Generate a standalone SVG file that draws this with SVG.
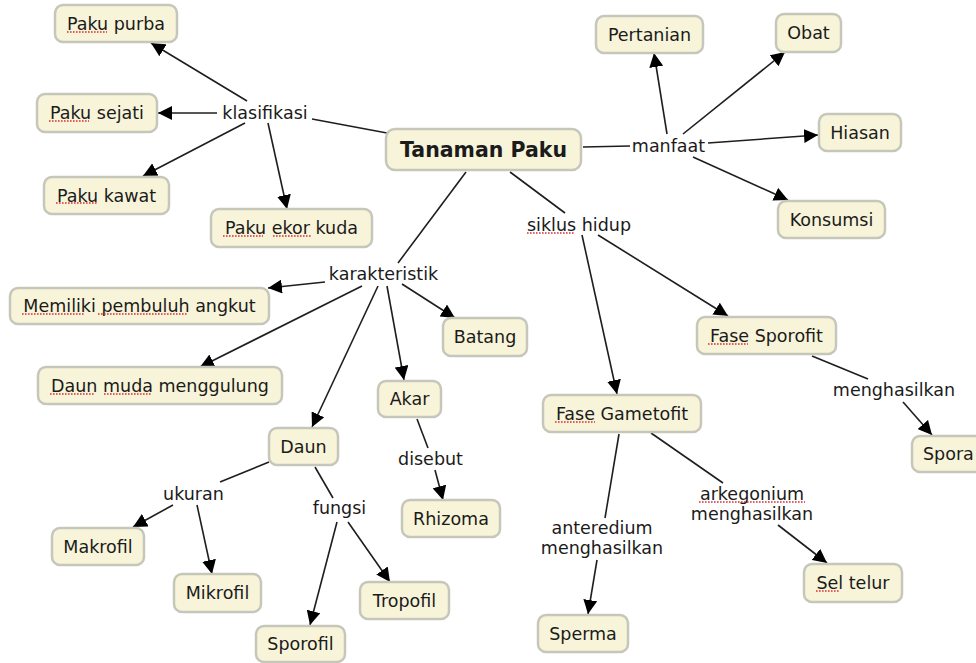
<svg xmlns="http://www.w3.org/2000/svg" width="976" height="663" viewBox="0 0 976 663">
<style>
.n rect{fill:#f7f4d9;stroke:#c6c6bb;stroke-width:2.5}
text{font-family:"DejaVu Sans","Verdana",sans-serif;font-size:17.5px;fill:#1b1b1b;text-anchor:middle}
.b{font-weight:bold;font-size:20.5px}
.c line{stroke:#1e1e1e;stroke-width:1.6}
.a{marker-end:url(#ah)}
.sp path{fill:none;stroke:#d93030;stroke-width:1.4;stroke-dasharray:1.6 1.4}
</style>
<defs>
<marker id="ah" markerUnits="userSpaceOnUse" markerWidth="15" markerHeight="14" refX="14" refY="7" orient="auto">
<path d="M0,0 L14,7 L0,14 z" fill="#000"/>
</marker>
</defs>
<g class="c">
<line x1="387" y1="133" x2="312" y2="119"/>
<line class="a" x1="247" y1="101" x2="151" y2="43"/>
<line class="a" x1="217" y1="113" x2="158" y2="113"/>
<line class="a" x1="245" y1="123" x2="143" y2="176"/>
<line class="a" x1="268" y1="123" x2="287" y2="209"/>
<line x1="583" y1="147" x2="630" y2="146"/>
<line class="a" x1="667" y1="134" x2="654" y2="53"/>
<line class="a" x1="683" y1="134" x2="785" y2="52"/>
<line class="a" x1="708" y1="143" x2="818" y2="135"/>
<line class="a" x1="693" y1="157" x2="788" y2="200"/>
<line x1="510" y1="172" x2="565" y2="213"/>
<line x1="466" y1="172" x2="398" y2="263"/>
<line class="a" x1="582" y1="235" x2="617" y2="394"/>
<line class="a" x1="598" y1="235" x2="728" y2="316"/>
<line class="a" x1="325" y1="282" x2="268" y2="288"/>
<line class="a" x1="362" y1="286" x2="200" y2="367"/>
<line class="a" x1="378" y1="286" x2="312" y2="427"/>
<line class="a" x1="387" y1="286" x2="404" y2="380"/>
<line class="a" x1="402" y1="284" x2="455" y2="318"/>
<line x1="417" y1="419" x2="428" y2="448"/>
<line class="a" x1="435" y1="470" x2="443" y2="500"/>
<line x1="269" y1="462" x2="220" y2="482"/>
<line class="a" x1="173" y1="505" x2="133" y2="527"/>
<line class="a" x1="197" y1="505" x2="212" y2="574"/>
<line x1="315" y1="467" x2="333" y2="498"/>
<line class="a" x1="337" y1="522" x2="310" y2="625"/>
<line class="a" x1="348" y1="522" x2="390" y2="582"/>
<line x1="812" y1="356" x2="868" y2="379"/>
<line class="a" x1="903" y1="402" x2="932" y2="435"/>
<line x1="651" y1="433" x2="723" y2="483"/>
<line class="a" x1="778" y1="525" x2="827" y2="563"/>
<line x1="619" y1="434" x2="605" y2="518"/>
<line class="a" x1="597" y1="560" x2="588" y2="614"/>
</g>
<g id="tanaman-paku" class="n"><rect x="386" y="129" width="195" height="41" rx="9"/><text class="b" x="483.5" y="157">Tanaman Paku</text></g>
<g id="paku-purba" class="n"><rect x="55" y="5" width="122" height="37" rx="8"/><text x="116" y="29.5">Paku purba</text></g>
<g id="paku-sejati" class="n"><rect x="37" y="94" width="120" height="38" rx="8"/><text x="97" y="119">Paku sejati</text></g>
<g id="paku-kawat" class="n"><rect x="44" y="177" width="125" height="37" rx="8"/><text x="106.5" y="201.5">Paku kawat</text></g>
<g id="paku-ekor-kuda" class="n"><rect x="211" y="209" width="161" height="38" rx="8"/><text x="291.5" y="234">Paku ekor kuda</text></g>
<g id="pertanian" class="n"><rect x="596" y="16" width="107" height="37" rx="8"/><text x="649.5" y="40.5">Pertanian</text></g>
<g id="obat" class="n"><rect x="776" y="14" width="65" height="38" rx="8"/><text x="808.5" y="39">Obat</text></g>
<g id="hiasan" class="n"><rect x="819" y="114" width="82" height="37" rx="8"/><text x="860" y="138.5">Hiasan</text></g>
<g id="konsumsi" class="n"><rect x="778" y="201" width="107" height="37" rx="8"/><text x="831.5" y="225.5">Konsumsi</text></g>
<g id="memiliki" class="n"><rect x="10" y="288" width="259" height="36" rx="8"/><text x="139.5" y="312">Memiliki pembuluh angkut</text></g>
<g id="batang" class="n"><rect x="443" y="318" width="84" height="38" rx="8"/><text x="485" y="343">Batang</text></g>
<g id="daun-muda" class="n"><rect x="38" y="367" width="244" height="37" rx="8"/><text x="160" y="391.5">Daun muda menggulung</text></g>
<g id="akar" class="n"><rect x="378" y="381" width="63" height="36" rx="8"/><text x="409.5" y="405">Akar</text></g>
<g id="daun" class="n"><rect x="269" y="428" width="69" height="37" rx="8"/><text x="303.5" y="452.5">Daun</text></g>
<g id="rhizoma" class="n"><rect x="402" y="500" width="98" height="37" rx="8"/><text x="451" y="524.5">Rhizoma</text></g>
<g id="makrofil" class="n"><rect x="52" y="528" width="92" height="37" rx="8"/><text x="98" y="552.5">Makrofil</text></g>
<g id="mikrofil" class="n"><rect x="174" y="574" width="87" height="38" rx="8"/><text x="217.5" y="599">Mikrofil</text></g>
<g id="tropofil" class="n"><rect x="360" y="582" width="89" height="37" rx="8"/><text x="404.5" y="606.5">Tropofil</text></g>
<g id="sporofil" class="n"><rect x="256" y="626" width="89" height="36" rx="8"/><text x="300.5" y="650">Sporofil</text></g>
<g id="fase-sporofit" class="n"><rect x="697" y="317" width="139" height="37" rx="8"/><text x="766.5" y="341.5">Fase Sporofit</text></g>
<g id="spora" class="n"><rect x="912" y="436" width="76" height="36" rx="8"/><text x="923" y="460" style="text-anchor:start">Spora</text></g>
<g id="fase-gametofit" class="n"><rect x="543" y="395" width="158" height="37" rx="8"/><text x="622" y="419.5">Fase Gametofit</text></g>
<g id="sel-telur" class="n"><rect x="804" y="564" width="98" height="38" rx="8"/><text x="853" y="589">Sel telur</text></g>
<g id="sperma" class="n"><rect x="538" y="615" width="90" height="37" rx="8"/><text x="583" y="639.5">Sperma</text></g>
<g id="labels">
<text x="265" y="119">klasifikasi</text>
<text x="668.5" y="152">manfaat</text>
<text x="579" y="231">siklus hidup</text>
<text x="383.5" y="280">karakteristik</text>
<text x="430.5" y="465">disebut</text>
<text x="193.5" y="500">ukuran</text>
<text x="339.5" y="514">fungsi</text>
<text x="894" y="396">menghasilkan</text>
<text x="752" y="500">arkegonium</text>
<text x="752" y="520">menghasilkan</text>
<text x="602" y="534">anteredium</text>
<text x="602" y="554">menghasilkan</text>
</g>
<g class="sp">
<path d="M67,32H107"/>
<path d="M49,121H89"/>
<path d="M56,203H97"/>
<path d="M223,236H263M273,236H312"/>
<path d="M527,233H575"/>
<path d="M22,314H85M98,314H187"/>
<path d="M50,394H95M104,394H152"/>
<path d="M708,344H748"/>
<path d="M555,422H595"/>
<path d="M699,502H805"/>
<path d="M816,591H840"/>
</g>
</svg>
